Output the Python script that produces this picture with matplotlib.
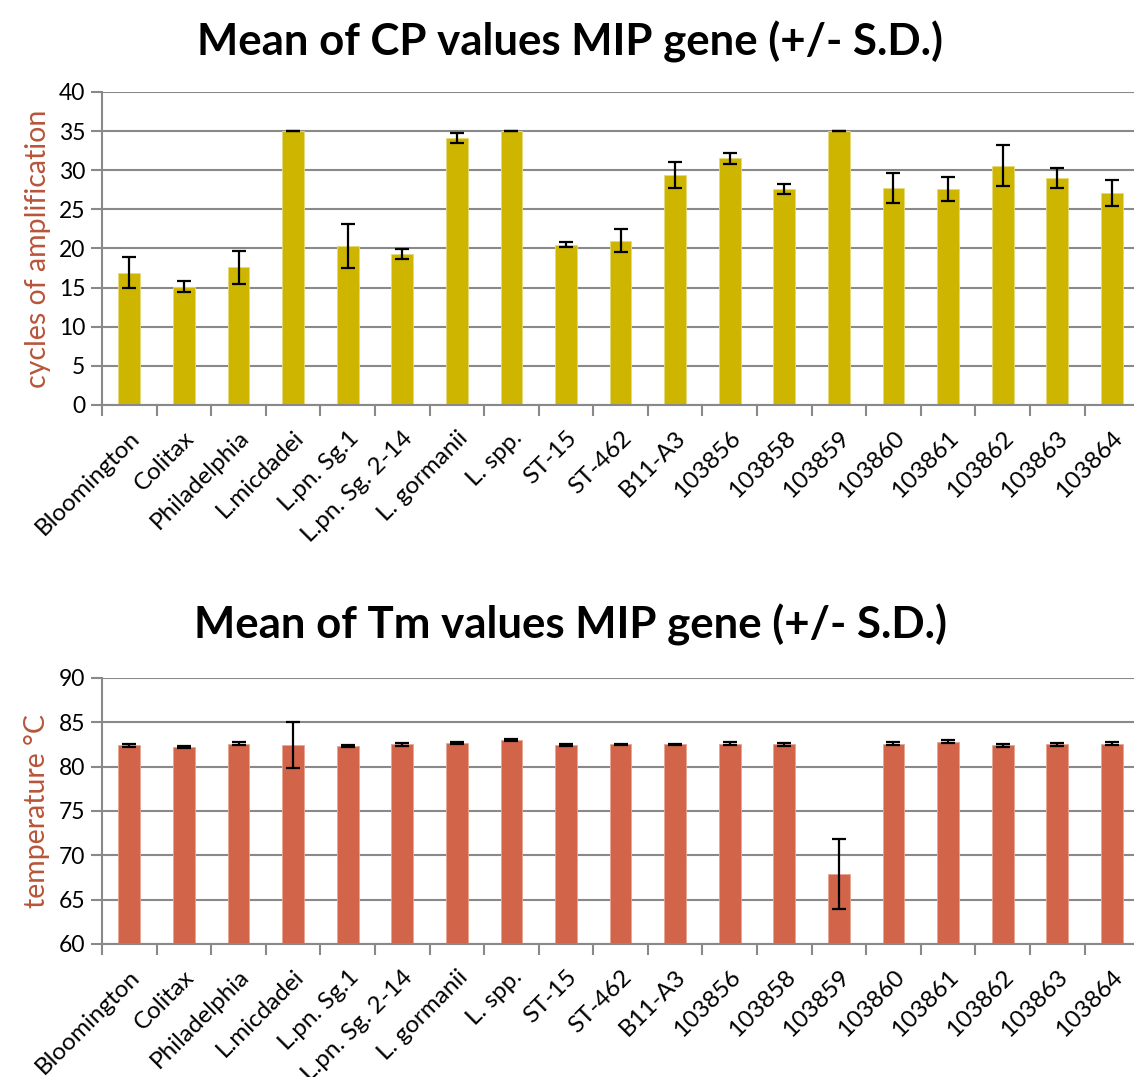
import matplotlib
matplotlib.use("Agg")
import matplotlib.pyplot as plt
import numpy as np

categories = ["Bloomington", "Colitax", "Philadelphia", "L.micdadei", "L.pn. Sg.1",
              "L.pn. Sg. 2-14", "L. gormanii", "L. spp.", "ST-15", "ST-462", "B11-A3",
              "103856", "103858", "103859", "103860", "103861", "103862", "103863", "103864"]

cp_mean = [16.9, 15.1, 17.6, 35.0, 20.3, 19.3, 34.1, 35.0, 20.5, 21.0, 29.4,
           31.5, 27.6, 35.0, 27.7, 27.6, 30.6, 29.0, 27.1]
cp_sd = [1.95, 0.7, 2.1, 0.0, 2.85, 0.6, 0.6, 0.0, 0.3, 1.5, 1.7,
         0.7, 0.65, 0.0, 1.95, 1.55, 2.6, 1.25, 1.7]

tm_mean = [82.4, 82.25, 82.6, 82.45, 82.3, 82.5, 82.7, 83.0, 82.45, 82.5, 82.5,
           82.6, 82.5, 67.9, 82.6, 82.8, 82.4, 82.5, 82.6]
tm_sd = [0.15, 0.1, 0.15, 2.55, 0.1, 0.2, 0.1, 0.15, 0.15, 0.05, 0.1,
         0.2, 0.2, 3.95, 0.2, 0.15, 0.15, 0.2, 0.15]

plt.rcParams['font.family'] = ['Lato', 'DejaVu Sans']

GRID = "#898989"
LABEL_COLOR = "#B8553A"

fig = plt.figure(figsize=(11.34, 10.77), dpi=100)


def style(ax, ymin, ymax, step, ylabel):
    x = np.arange(len(categories))
    ax.set_xlim(-0.5, len(categories) - 0.5)
    ax.set_ylim(ymin, ymax)
    ax.set_yticks(np.arange(ymin, ymax + 0.1, step))
    ax.set_xticks(np.arange(len(categories) + 1) - 0.5)
    ax.set_xticklabels([])
    ax.set_xticks(x, minor=True)
    ax.set_xticklabels(categories, minor=True, rotation=45, ha='right',
                       rotation_mode='anchor', fontsize=17.5)
    ax.tick_params(axis='x', which='minor', length=0, pad=16)
    ax.tick_params(axis='x', which='major', length=8, width=1.5, color=GRID)
    ax.tick_params(axis='y', length=8, width=1.5, color=GRID, labelsize=16.5, pad=4)
    ax.yaxis.grid(True, color=GRID, lw=1.5)
    ax.set_axisbelow(True)
    for s in ['top', 'right']:
        ax.spines[s].set_visible(False)
    for s in ['left', 'bottom']:
        ax.spines[s].set_color(GRID)
        ax.spines[s].set_linewidth(1.5)
    ax.set_ylabel(ylabel, color=LABEL_COLOR, fontsize=20.5, labelpad=6)


x = np.arange(len(categories))

ax1 = fig.add_axes([0.09, 0.624, 0.9145, 0.2906])
ax1.bar(x, cp_mean, width=0.4, color="#CDB500", edgecolor="#E6D97A", linewidth=0.6,
        yerr=cp_sd, capsize=5, error_kw=dict(ecolor='black', elinewidth=1.6, capthick=1.6),
        zorder=2)
style(ax1, 0, 40, 5, "cycles of amplification")
fig.text(0.503, 0.961, "Mean of CP values MIP gene (+/- S.D.)", ha='center', va='center',
         fontsize=31.5, fontweight='bold')

ax2 = fig.add_axes([0.09, 0.1235, 0.9145, 0.247])
ax2.bar(x, tm_mean, width=0.4, color="#D2644A", edgecolor="#E8A595", linewidth=0.6,
        yerr=tm_sd, capsize=5, error_kw=dict(ecolor='black', elinewidth=1.6, capthick=1.6),
        zorder=2)
style(ax2, 60, 90, 5, "temperature °C")
fig.text(0.503, 0.42, "Mean of Tm values MIP gene (+/- S.D.)", ha='center', va='center',
         fontsize=31.5, fontweight='bold')

fig.savefig("out.png", dpi=100)
